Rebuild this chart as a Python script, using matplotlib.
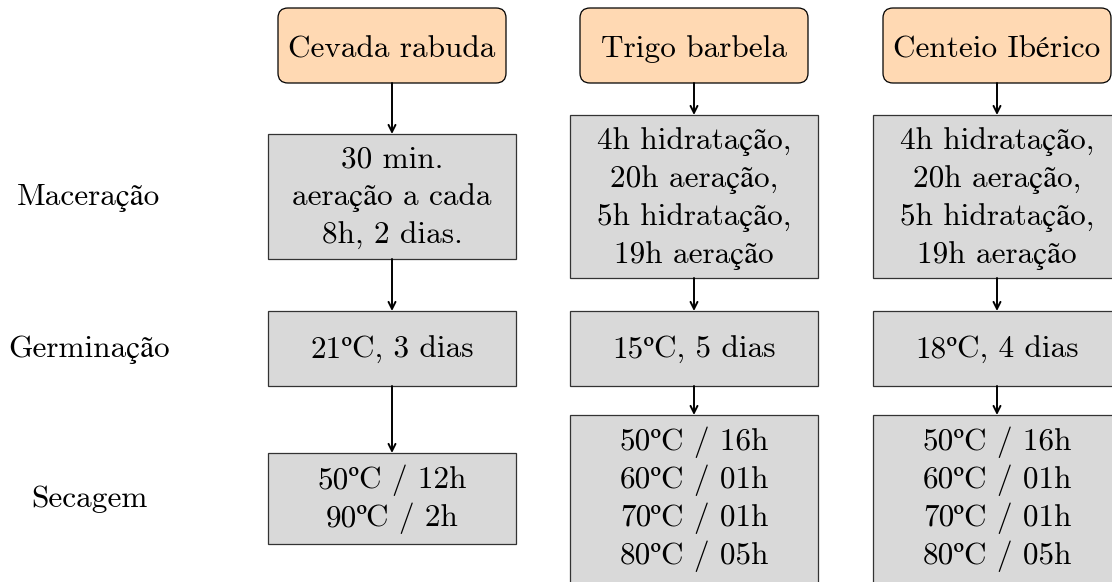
import re
import matplotlib.pyplot as plt
from matplotlib.patches import FancyBboxPatch, Rectangle

cereais = ['Cevada rabuda', 'Trigo barbela', 'Centeio Ibérico']
etapas = ['Maceração', 'Germinação', 'Secagem']
maceracao = ['30 min.\naeração a cada\n8h, 2 dias.',
             '4h hidratação,\n20h aeração,\n5h hidratação,\n19h aeração',
             '4h hidratação,\n20h aeração,\n5h hidratação,\n19h aeração']
germinacao = ['21ºC, 3 dias', '15ºC, 5 dias', '18ºC, 4 dias']
secagem = ['50ºC / 12h\n90ºC / 2h',
           '50ºC / 16h\n60ºC / 01h\n70ºC / 01h\n80ºC / 05h',
           '50ºC / 16h\n60ºC / 01h\n70ºC / 01h\n80ºC / 05h']

# layout in pixels (y down)
centros = [392, 694, 997]
larg_topo = 228
larg_caixa = 248
topo_y = (8, 83)
caixas_y = [
    [(134, 259), (311, 386), (453, 544)],
    [(115, 278), (311, 386), (415, 600)],
    [(115, 278), (311, 386), (415, 600)],
]
etapa_y = [196, 348, 498]

laranja = '#FFD9B3'
cinza = '#D9D9D9'
fs = 22.5
passo = 38      # distance between lines
desloc = 9      # baseline below the middle of the caps

fig = plt.figure(figsize=(11.12, 5.82), dpi=100)
ax = fig.add_axes([0, 0, 1, 1])
ax.set_xlim(0, 1112)
ax.set_ylim(582, 0)
ax.axis('off')
r = fig.canvas.get_renderer()


def escreve(x, yc, txt):
    # cmr10 has no proper º, so that sign goes to STIX
    linhas = txt.split('\n')
    n = len(linhas)
    for k, linha in enumerate(linhas):
        yb = yc + desloc + (k - (n - 1) / 2) * passo
        objs = []
        for p in re.split('(º)', linha):
            if not p:
                continue
            fam = ['STIXGeneral'] if p == 'º' else ['cmr10', 'STIXGeneral']
            objs.append(ax.text(0, yb, p, fontsize=fs, family=fam, va='baseline', ha='left'))
        larg = [t.get_window_extent(r).width for t in objs]
        xi = x - sum(larg) / 2
        for t, w in zip(objs, larg):
            t.set_x(xi)
            xi += w


for i, nome in enumerate(cereais):
    cx = centros[i]
    x0 = cx - larg_topo / 2
    ax.add_patch(FancyBboxPatch((x0 + 10, topo_y[0] + 10), larg_topo - 20, topo_y[1] - topo_y[0] - 20,
                                boxstyle='round,pad=10', fc=laranja, ec='black', lw=0.9))
    escreve(cx, 48, nome)

    textos = [maceracao[i], germinacao[i], secagem[i]]
    anterior = topo_y[1]
    for j, txt in enumerate(textos):
        y0, y1 = caixas_y[i][j]
        ax.annotate('', xy=(cx, y0), xytext=(cx, anterior),
                    arrowprops=dict(arrowstyle='->,head_length=0.5,head_width=0.25', color='black', lw=1.4,
                                    shrinkA=0, shrinkB=0))
        ax.add_patch(Rectangle((cx - larg_caixa / 2, y0), larg_caixa, y1 - y0,
                               fc=cinza, ec='#333333', lw=0.9))
        yc = (y0 + y1) / 2 if y1 < 582 else 498
        escreve(cx, yc, txt)
        anterior = y1

for nome, y in zip(etapas, etapa_y):
    escreve(89, y, nome)

fig.savefig('out.png', dpi=100)
